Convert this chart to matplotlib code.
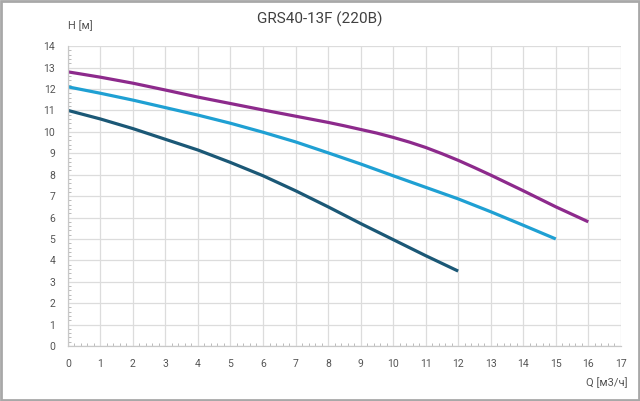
import matplotlib.pyplot as plt
from matplotlib.patches import Rectangle
from matplotlib.ticker import MultipleLocator

plt.rcParams['font.family'] = ['Roboto', 'DejaVu Sans']

# кривые насоса по скоростям
q_low = [0, 1, 2, 3, 4, 5, 6, 7, 8, 9, 10, 11, 12]
h_low = [11.0, 10.6, 10.15, 9.65, 9.15, 8.57, 7.95, 7.25, 6.5, 5.72, 4.97, 4.22, 3.5]

q_mid = [0, 1, 2, 3, 4, 5, 6, 7, 8, 9, 10, 11, 12, 13, 14, 15]
h_mid = [12.1, 11.8, 11.48, 11.13, 10.78, 10.4, 9.98, 9.53, 9.02, 8.5, 7.95, 7.41, 6.87, 6.27, 5.64, 5.0]

q_high = [0, 1, 2, 3, 4, 5, 6, 7, 8, 8.5, 9, 9.5, 10, 10.5, 11, 11.5, 12, 12.5, 13, 14, 15, 16]
h_high = [12.8, 12.55, 12.27, 11.95, 11.62, 11.32, 11.02, 10.73, 10.44, 10.28, 10.11, 9.94, 9.74, 9.52, 9.27, 8.98, 8.67, 8.33, 7.98, 7.25, 6.5, 5.8]

title = 'GRS40-13F (220В)'

fig = plt.figure(figsize=(6.4, 4.01), dpi=100)
ax = fig.add_axes([0.106, 0.137, 0.864, 0.748])

ax.plot(q_low, h_low, color='#1b5876', lw=2.3, solid_capstyle='butt')
ax.plot(q_mid, h_mid, color='#1fa0d3', lw=2.3, solid_capstyle='butt')
ax.plot(q_high, h_high, color='#8d2a8c', lw=2.3, solid_capstyle='butt')

ax.set_xlim(0, 17)
ax.set_ylim(0, 14)
ax.xaxis.set_major_locator(MultipleLocator(1))
ax.yaxis.set_major_locator(MultipleLocator(1))
ax.xaxis.set_minor_locator(MultipleLocator(0.2))
ax.yaxis.set_minor_locator(MultipleLocator(0.2))
ax.grid(True, which='major', color='#dcdcdc', lw=0.9)
ax.set_axisbelow(True)
ax.tick_params(which='both', direction='in', colors='#b0b0b0', labelcolor='#555555', labelsize=7.5)
ax.tick_params(which='major', length=0, pad=9)
ax.tick_params(which='minor', length=2.5, width=0.6)
for s in ['top', 'right']:
    ax.spines[s].set_visible(False)
for s in ['left', 'bottom']:
    ax.spines[s].set_color('#c8c8c8')
    ax.spines[s].set_linewidth(0.9)

fig.text(0.5, 0.952, title, ha='center', va='center', fontsize=11, color='#404040')
fig.text(0.125, 0.935, 'H [м]', ha='center', va='center', fontsize=8, color='#555555')
fig.text(0.948, 0.045, 'Q [м3/ч]', ha='center', va='center', fontsize=8, color='#555555')

fig.patches.append(Rectangle((0.002, 0.003), 0.996, 0.994, transform=fig.transFigure,
                             fill=False, edgecolor='#a8a8a8', lw=2))

fig.savefig('out.png', dpi=100)
